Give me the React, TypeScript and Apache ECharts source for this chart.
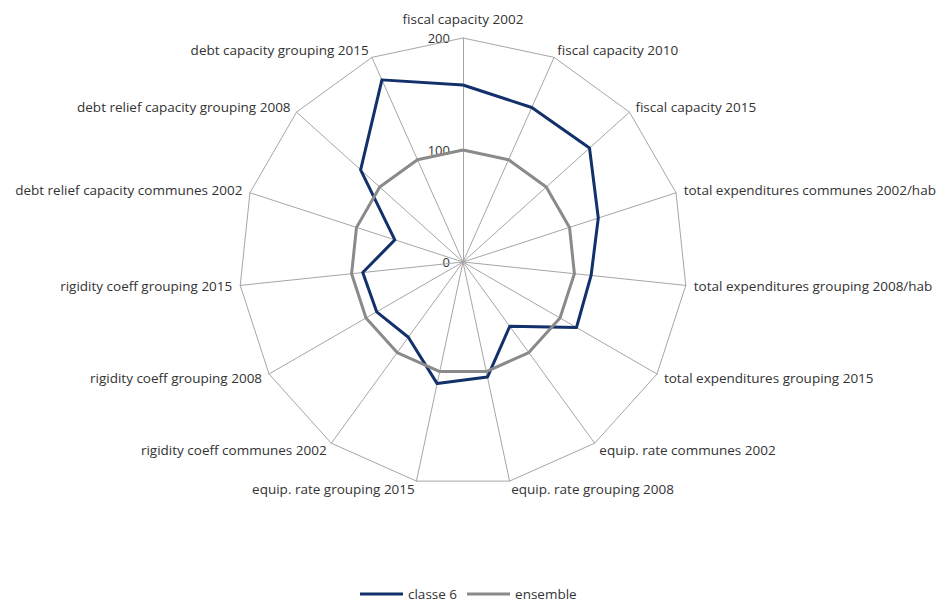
import React, { useEffect, useRef } from "react";
import * as echarts from "echarts";

// Categories in clockwise order starting at the top
const categories = [
  "fiscal capacity 2002",
  "fiscal capacity 2010",
  "fiscal capacity 2015",
  "total expenditures communes 2002/hab",
  "total expenditures grouping 2008/hab",
  "total expenditures grouping 2015",
  "equip. rate communes 2002",
  "equip. rate grouping 2008",
  "equip. rate grouping 2015",
  "rigidity coeff communes 2002",
  "rigidity coeff grouping 2008",
  "rigidity coeff grouping 2015",
  "debt relief capacity communes 2002",
  "debt relief capacity grouping 2008",
  "debt capacity grouping 2015",
];

const classe6 = [158, 151, 152, 127, 115, 117, 71, 105, 111, 83, 89, 90, 64, 123, 178];
const ensemble = [100, 100, 100, 100, 100, 100, 100, 100, 100, 100, 100, 100, 100, 100, 100];

const tickLabels = [0, 100, 200];
const axisMax = 200;

const seriesNames = ["classe 6", "ensemble"];
const seriesColors = ["#12306a", "#8a8a8a"];

// ECharts places radar indicators counter-clockwise; reorder to clockwise
const toCcw = <T,>(arr: T[]): T[] => [arr[0], ...arr.slice(1).reverse()];

export default function App() {
  const ref = useRef<HTMLDivElement>(null);

  useEffect(() => {
    document.body.style.margin = "0";
    if (!ref.current) return;
    const chart = echarts.init(ref.current, undefined, { renderer: "svg" });
    const cx = 463;
    const cy = 262;
    const radius = 224;
    const font = "'Open Sans', sans-serif";

    chart.setOption({
      animation: false,
      backgroundColor: "#ffffff",
      legend: {
        top: 582,
        left: 355,
        icon: "rect",
        itemWidth: 43,
        itemHeight: 3,
        itemGap: 10,
        textStyle: { fontFamily: font, fontSize: 13.5, color: "#333" },
        data: seriesNames,
      },
      radar: {
        center: [cx, cy],
        radius,
        startAngle: 90,
        splitNumber: 1,
        shape: "polygon",
        indicator: toCcw(categories).map((name) => ({ name, min: 0, max: axisMax })),
        axisName: {
          color: "#333",
          fontFamily: font,
          fontSize: 13.5,
          formatter: (name: string) => (name === categories[0] ? `{top|${name}}` : name),
          rich: {
            top: {
              color: "#333",
              fontFamily: font,
              fontSize: 13.5,
              padding: [0, 0, 4, 0],
            },
          },
        },
        nameGap: 8,
        axisLine: { lineStyle: { color: "#a6a6a6", width: 1 } },
        splitLine: { lineStyle: { color: "#a6a6a6", width: 1 } },
        splitArea: { show: false },
        axisTick: { show: false },
        axisLabel: { show: false },
      },
      graphic: tickLabels.map((t) => ({
        type: "text",
        x: cx - 13,
        y: cy - (t / axisMax) * radius,
        style: {
          text: String(t),
          fill: "#333",
          font: `13px ${font}`,
          textAlign: "right",
          textVerticalAlign: "middle",
        },
      })),
      series: [
        {
          type: "radar",
          symbol: "none",
          data: [
            {
              name: seriesNames[0],
              value: toCcw(classe6),
              lineStyle: { color: seriesColors[0], width: 3 },
              itemStyle: { color: seriesColors[0] },
            },
            {
              name: seriesNames[1],
              value: toCcw(ensemble),
              lineStyle: { color: seriesColors[1], width: 3 },
              itemStyle: { color: seriesColors[1] },
            },
          ],
        },
      ],
    });
    return () => chart.dispose();
  }, []);

  return <div ref={ref} style={{ width: 951, height: 603 }} />;
}
